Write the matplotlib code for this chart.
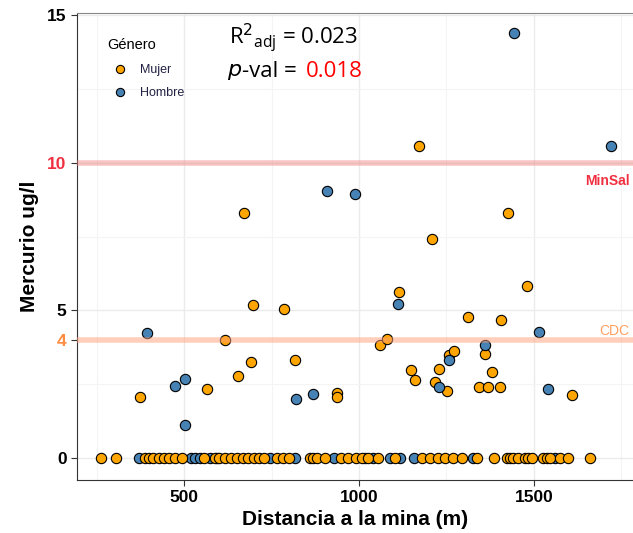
import matplotlib
matplotlib.use('Agg')
import matplotlib.pyplot as plt
import numpy as np

### DATA: distance to mine (m) and mercury (ug/l) by gender
mujer_x_cero = [263, 306, 389, 400, 411, 429, 443, 457, 474, 494, 557, 589, 600, 617, 634,
                651, 669, 683, 700, 714, 729, 766, 783, 800, 860, 869, 880, 903, 949, 969,
                991, 1009, 1026, 1054, 1103, 1180, 1203, 1226, 1246, 1269, 1294, 1337, 1386,
                1423, 1431, 1440, 1454, 1474, 1483, 1494, 1526, 1537, 1546, 1574, 1597, 1660]
hombre_x_cero = [371, 520, 531, 546, 574, 594, 746, 817, 929, 1017, 1040, 1089, 1117, 1157,
                 1326, 1560]

mujer_x = [374, 566, 617, 654, 671, 691, 697, 786, 817, 937, 937, 1060, 1080, 1114, 1149,
           1160, 1171, 1209, 1217, 1229, 1251, 1257, 1271, 1311, 1343, 1360, 1369, 1380,
           1403, 1406, 1426, 1480, 1609]
mujer_y = [2.07, 2.34, 4.0, 2.78, 8.3, 3.25, 5.19, 5.05, 3.32, 2.2, 2.07, 3.83, 4.03, 5.63,
           2.98, 2.64, 10.58, 7.42, 2.58, 3.02, 2.27, 3.49, 3.63, 4.78, 2.41, 3.52, 2.41,
           2.92, 2.41, 4.68, 8.3, 5.83, 2.14]
hombre_x = [394, 474, 503, 503, 820, 869, 909, 989, 1111, 1229, 1257, 1360, 1443, 1514, 1540, 1720]
hombre_y = [4.24, 2.44, 2.68, 1.12, 2.0, 2.17, 9.05, 8.95, 5.22, 2.41, 3.32, 3.83, 14.4, 4.27, 2.34, 10.58]

limite_minsal = 10
limite_cdc = 4
r2_adj = '0.023'
p_val = '0.018'

col_mujer = '#FFA500'
col_hombre = '#4682B4'

plt.rcParams['font.family'] = ['Liberation Sans', 'DejaVu Sans']

#%% PLOT
fig = plt.figure(figsize=(6.33, 5.33), dpi=100)
ax = fig.add_axes([0.1216, 0.0994, 0.8784, 0.8762])

ax.scatter(hombre_x_cero, np.zeros(len(hombre_x_cero)), s=55, c=col_hombre, edgecolors='black', linewidths=0.8, zorder=3)
ax.scatter(mujer_x_cero, np.zeros(len(mujer_x_cero)), s=55, c=col_mujer, edgecolors='black', linewidths=0.8, zorder=3)
ax.scatter(mujer_x, mujer_y, s=55, c=col_mujer, edgecolors='black', linewidths=0.8, zorder=3, label='Mujer')
ax.scatter(hombre_x, hombre_y, s=55, c=col_hombre, edgecolors='black', linewidths=0.8, zorder=3, label='Hombre')

### reference lines
ax.axhline(limite_minsal, color='#F08080', alpha=0.45, lw=4, zorder=4)
ax.axhline(limite_cdc, color='#FFA07A', alpha=0.5, lw=4, zorder=4)
ax.text(1775, 9.4, 'MinSal', color='#F03040', fontsize=10, fontweight='bold', ha='right', va='center', zorder=5)
ax.text(1772, 4.3, 'CDC', color='#FFA060', fontsize=10, ha='right', va='center', zorder=5)

ax.set_xlim(194, 1783)
ax.set_ylim(-0.75, 15.08)
ax.set_xticks([500, 1000, 1500])
ax.set_xticks([250, 750, 1250, 1750], minor=True)
ax.set_yticks([0, 4, 5, 10, 15])
ax.set_yticks([2.5, 7.5, 12.5], minor=True)
ax.grid(True, which='major', color='#EBEBEB', lw=1.0, zorder=0)
ax.grid(True, which='minor', color='#F4F4F4', lw=0.8, zorder=0)
ax.yaxis.get_gridlines()[1].set_visible(False)
ax.tick_params(which='minor', length=0)
ax.tick_params(which='major', length=4, color='#333333', labelsize=12.5)
for lab in ax.get_xticklabels() + ax.get_yticklabels():
    lab.set_fontweight('bold')
ylabs = ax.get_yticklabels()
ylabs[1].set_color('#FF8C40')
ylabs[3].set_color('#F03040')

ax.spines['right'].set_visible(False)
ax.spines['top'].set_color('#888888')
ax.spines['left'].set_color('#333333')
ax.spines['bottom'].set_color('#333333')

ax.set_xlabel('Distancia a la mina (m)', fontsize=15, fontweight='bold', labelpad=3)
ax.set_ylabel('Mercurio ug/l', fontsize=15, fontweight='bold', labelpad=6)

### annotation
ax.text(0.39, 0.945, r'R$^2$$_{\mathregular{adj}}$ = ' + r2_adj, transform=ax.transAxes, fontsize=16, ha='center', va='center', family='Open Sans')
ax.text(0.27, 0.875, '$p$', transform=ax.transAxes, fontsize=16, ha='left', va='center')
ax.text(0.297, 0.875, '-val = ', transform=ax.transAxes, fontsize=16, ha='left', va='center', family='Open Sans')
ax.text(0.411, 0.875, p_val, transform=ax.transAxes, fontsize=16, ha='left', va='center', color='red', family='Open Sans')

leg = ax.legend(title='Género', loc='upper left', bbox_to_anchor=(0.035, 0.97), frameon=False,
                fontsize=9, title_fontsize=10.5, handletextpad=0.6, labelspacing=0.9, markerscale=0.8)
leg._legend_box.align = 'left'
for t in leg.get_texts():
    t.set_color('#222244')

fig.savefig('out.png', dpi=100)
